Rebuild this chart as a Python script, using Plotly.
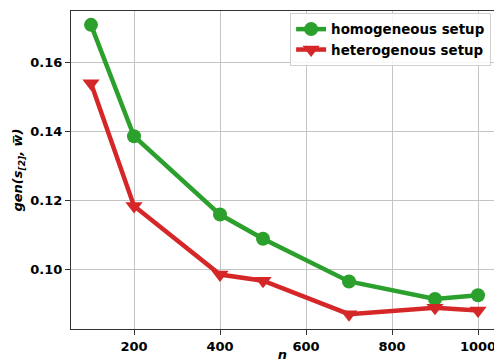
import plotly.graph_objects as go

# Generalisation error versus sample size for the two setups
n_values = [100, 200, 400, 500, 700, 900, 1000]
homogeneous = [0.1710, 0.1387, 0.1160, 0.1090, 0.0966, 0.0915, 0.0926]
heterogenous = [0.1541, 0.1185, 0.0986, 0.0968, 0.0871, 0.0890, 0.0882]

series_names = ["homogeneous setup", "heterogenous setup"]
y_ticks = [0.10, 0.12, 0.14, 0.16]
x_ticks = [200, 400, 600, 800, 1000]

GREEN = "#2ca02c"
RED = "#d62728"
FONT = "DejaVu Sans"

fig = go.Figure()
fig.add_trace(go.Scatter(
    x=n_values, y=homogeneous, name=series_names[0],
    mode="lines+markers",
    line=dict(color=GREEN, width=4.5),
    marker=dict(symbol="circle", size=14, color=GREEN),
))
fig.add_trace(go.Scatter(
    x=n_values, y=heterogenous, name=series_names[1],
    mode="lines+markers",
    line=dict(color=RED, width=4.5),
    marker=dict(symbol="triangle-down", size=15, color=RED),
))

fig.update_layout(
    width=494, height=362,
    margin=dict(l=71, r=0, t=11, b=33),
    paper_bgcolor="white", plot_bgcolor="white",
    font=dict(family=FONT, size=13, color="black"),
    showlegend=True,
    legend=dict(
        x=0.518, y=0.994, xanchor="left", yanchor="top",
        bgcolor="rgba(255,255,255,0.85)", bordercolor="#d0d0d0", borderwidth=1,
        font=dict(family=FONT, size=13.4, color="black", weight="bold"),
        itemwidth=30, tracegroupgap=0,
    ),
    xaxis=dict(
        range=[53.5, 1037.2], tickvals=x_ticks,
        ticktext=[f"<b>{v}</b>" for v in x_ticks],
        ticklabeloverflow="allow",
        showgrid=True, gridcolor="#c4c4c4", gridwidth=1,
        showline=True, linecolor="#333333", linewidth=1, mirror=True,
        ticks="outside", ticklen=5, tickcolor="#333333",
        zeroline=False,
        title=dict(text="<b><i>n</i></b>", standoff=11,
                   font=dict(family=FONT, size=13)),
        automargin=False,
    ),
    yaxis=dict(
        range=[0.08281, 0.17502], tickvals=y_ticks,
        ticktext=[f"<b>{v:.2f}</b>" for v in y_ticks],
        showgrid=True, gridcolor="#c4c4c4", gridwidth=1,
        showline=True, linecolor="#333333", linewidth=1, mirror=False,
        ticks="outside", ticklen=5, tickcolor="#333333",
        zeroline=False,
        title=dict(text="<b><i>gen(s<sub>[2]</sub>, w\u0305)</i></b>", standoff=4,
                   font=dict(family=FONT, size=13)),
        automargin=False,
    ),
)

fig.write_html("out.html")
